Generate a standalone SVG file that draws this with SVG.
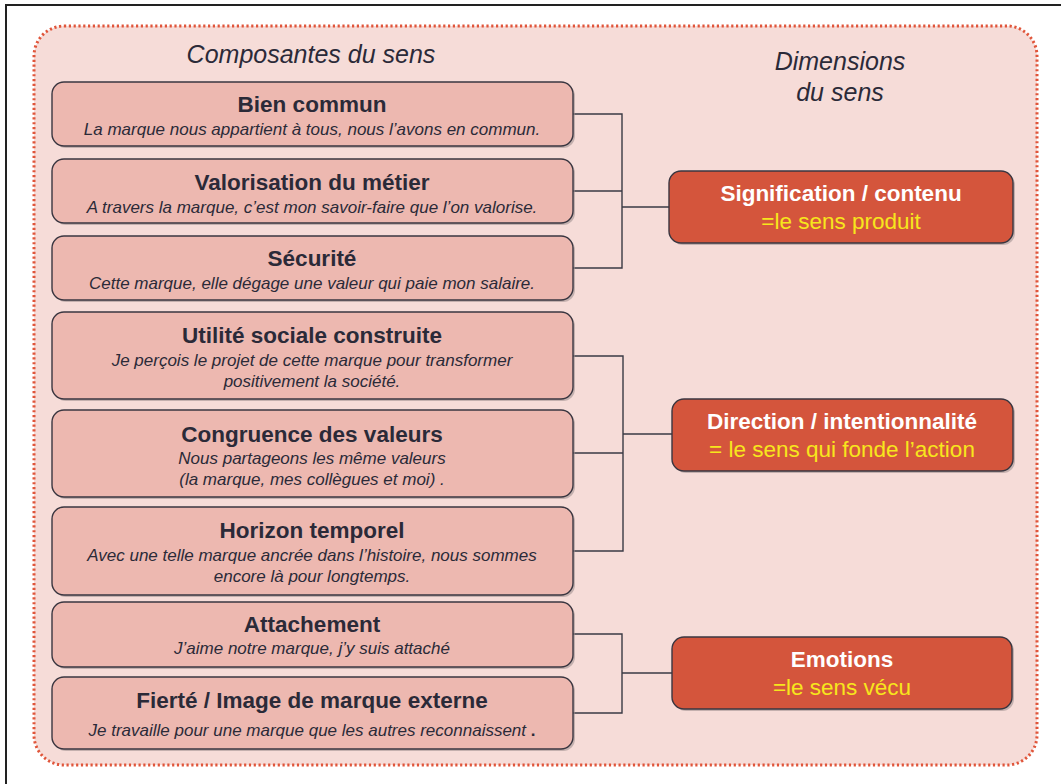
<svg xmlns="http://www.w3.org/2000/svg" width="1061" height="784" viewBox="0 0 1061 784">
<style>
.frame{fill:#fff;stroke:#222;stroke-width:2}
.panel{fill:#f6dcd8;stroke:#e0553a;stroke-width:3;stroke-dasharray:2.2 2.6}
.comp{fill:#edb8b0;stroke:#3a3640;stroke-width:1.4}
.dim{fill:#d4553c;stroke:#3a3640;stroke-width:1.4}
.shadow{fill:#9a8c8c;opacity:0.55}
.hdr{font-family:"Liberation Sans",Arial,sans-serif;font-style:italic;font-size:25px;fill:#2b2a38;text-anchor:middle}
.t{font-family:"Liberation Sans",Arial,sans-serif;font-weight:bold;font-size:22.5px;fill:#2b2a38;text-anchor:middle}
.s{font-family:"Liberation Sans",Arial,sans-serif;font-style:italic;font-size:17px;fill:#2b2a38;text-anchor:middle}
.dt{font-family:"Liberation Sans",Arial,sans-serif;font-weight:bold;font-size:22.5px;fill:#ffffff;text-anchor:middle}
.ds{font-family:"Liberation Sans",Arial,sans-serif;font-size:22.5px;fill:#f7e61c;text-anchor:middle}
.conn{fill:none;stroke:#3a3a44;stroke-width:1.4}
</style>
<rect class="frame" x="6" y="5" width="1100" height="820"/>
<rect class="panel" x="34" y="26" width="1003" height="739" rx="30" ry="30"/>
<text class="hdr" x="311" y="63">Composantes du sens</text>
<text class="hdr" x="840" y="70">Dimensions</text>
<text class="hdr" x="840" y="101">du sens</text>

<g id="connectors">
<path class="conn" d="M573 114H622V268H573M573 191H622M622 207H669"/>
<path class="conn" d="M573 356H623V551H573M573 453H623M623 434H672"/>
<path class="conn" d="M573 634H622V713H573M622 673H672"/>
</g>

<g id="bien-commun">
<rect class="shadow" x="54" y="84" width="521" height="64" rx="12"/>
<rect class="comp" x="52" y="82" width="521" height="64" rx="12"/>
<text class="t" x="312" y="112">Bien commun</text>
<text class="s" x="312" y="135">La marque nous appartient à tous, nous l’avons en commun.</text>
</g>
<g id="valorisation">
<rect class="shadow" x="54" y="161" width="521" height="64" rx="12"/>
<rect class="comp" x="52" y="159" width="521" height="64" rx="12"/>
<text class="t" x="312" y="190">Valorisation du métier</text>
<text class="s" x="312" y="213">A travers la marque, c’est mon savoir-faire que l’on valorise.</text>
</g>
<g id="securite">
<rect class="shadow" x="54" y="238" width="521" height="64" rx="12"/>
<rect class="comp" x="52" y="236" width="521" height="64" rx="12"/>
<text class="t" x="312" y="266">Sécurité</text>
<text class="s" x="312" y="289">Cette marque, elle dégage une valeur qui paie mon salaire.</text>
</g>
<g id="utilite">
<rect class="shadow" x="54" y="314" width="521" height="87" rx="12"/>
<rect class="comp" x="52" y="312" width="521" height="87" rx="12"/>
<text class="t" x="312" y="343">Utilité sociale construite</text>
<text class="s" x="312" y="366">Je perçois le projet de cette marque pour transformer</text>
<text class="s" x="312" y="387">positivement la société.</text>
</g>
<g id="congruence">
<rect class="shadow" x="54" y="412" width="521" height="87" rx="12"/>
<rect class="comp" x="52" y="410" width="521" height="87" rx="12"/>
<text class="t" x="312" y="442">Congruence des valeurs</text>
<text class="s" x="312" y="464">Nous partageons les même valeurs</text>
<text class="s" x="312" y="485">(la marque, mes collègues et moi) .</text>
</g>
<g id="horizon">
<rect class="shadow" x="54" y="509" width="521" height="88" rx="12"/>
<rect class="comp" x="52" y="507" width="521" height="88" rx="12"/>
<text class="t" x="312" y="538">Horizon temporel</text>
<text class="s" x="312" y="561">Avec une telle marque ancrée dans l’histoire, nous sommes</text>
<text class="s" x="312" y="582">encore là pour longtemps.</text>
</g>
<g id="attachement">
<rect class="shadow" x="54" y="604" width="521" height="65" rx="12"/>
<rect class="comp" x="52" y="602" width="521" height="65" rx="12"/>
<text class="t" x="312" y="632">Attachement</text>
<text class="s" x="312" y="654">J’aime notre marque, j’y suis attaché</text>
</g>
<g id="fierte">
<rect class="shadow" x="54" y="679" width="521" height="72" rx="12"/>
<rect class="comp" x="52" y="677" width="521" height="72" rx="12"/>
<text class="t" x="312" y="708">Fierté / Image de marque externe</text>
<text class="s" x="312" y="736">Je travaille pour une marque que les autres reconnaissent <tspan font-weight="bold" font-style="normal">.</tspan></text>
</g>

<g id="signification">
<rect class="shadow" x="671" y="173" width="344" height="72" rx="12"/>
<rect class="dim" x="669" y="171" width="344" height="72" rx="12"/>
<text class="dt" x="841" y="201">Signification / contenu</text>
<text class="ds" x="841" y="229">=le sens produit</text>
</g>
<g id="direction">
<rect class="shadow" x="674" y="401" width="341" height="72" rx="12"/>
<rect class="dim" x="672" y="399" width="341" height="72" rx="12"/>
<text class="dt" x="842" y="429">Direction / intentionnalité</text>
<text class="ds" x="842" y="457">= le sens qui fonde l’action</text>
</g>
<g id="emotions">
<rect class="shadow" x="674" y="639" width="340" height="72" rx="12"/>
<rect class="dim" x="672" y="637" width="340" height="72" rx="12"/>
<text class="dt" x="842" y="667">Emotions</text>
<text class="ds" x="842" y="695">=le sens vécu</text>
</g>
</svg>
